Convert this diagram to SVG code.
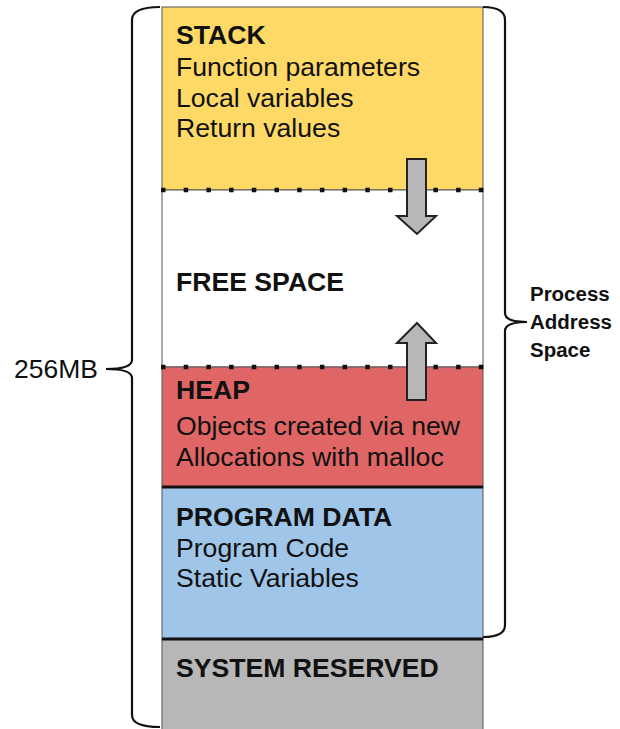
<svg xmlns="http://www.w3.org/2000/svg" width="620" height="729" viewBox="0 0 620 729">
<style>
.t{font-family:"Liberation Sans",Arial,sans-serif;font-size:25px;fill:#111}
.b{font-weight:bold}
.lbl{font-family:"Liberation Sans",Arial,sans-serif;font-size:19.5px;font-weight:bold;fill:#111}
.brace{fill:none;stroke:#111;stroke-width:2.2}
.arrow{fill:#b7b7b7;stroke:#222;stroke-width:2}
.dots{stroke:#111;stroke-width:4.5;stroke-dasharray:4.5 18.2}
.solid{stroke:#111;stroke-width:3}
</style>
<rect width="620" height="729" fill="#fff"/>
<g id="stack">
<rect x="162" y="7" width="321" height="183" fill="#ffd966" stroke="#555" stroke-width="1"/>
<g transform="matrix(1.065 0 0 1 176 0)">
<text class="t b" x="0" y="44">STACK</text>
<text class="t" x="0" y="76">Function parameters</text>
<text class="t" x="0" y="107">Local variables</text>
<text class="t" x="0" y="137">Return values</text>
</g>
</g>
<g id="free-space">
<rect x="162" y="190" width="321" height="177" fill="#fff" stroke="#555" stroke-width="1"/>
<text class="t b" x="0" y="291" transform="matrix(1.065 0 0 1 176 0)">FREE SPACE</text>
</g>
<g id="heap">
<rect x="162" y="367" width="321" height="120" fill="#e06666" stroke="#555" stroke-width="1"/>
<g transform="matrix(1.065 0 0 1 176 0)">
<text class="t b" x="0" y="399">HEAP</text>
<text class="t" x="0" y="435">Objects created via new</text>
<text class="t" x="0" y="466">Allocations with malloc</text>
</g>
</g>
<g id="program-data">
<rect x="162" y="487" width="321" height="152" fill="#9fc5e8" stroke="#555" stroke-width="1"/>
<g transform="matrix(1.065 0 0 1 176 0)">
<text class="t b" x="0" y="526">PROGRAM DATA</text>
<text class="t" x="0" y="557">Program Code</text>
<text class="t" x="0" y="587">Static Variables</text>
</g>
</g>
<g id="system-reserved">
<rect x="162" y="639" width="321" height="95" fill="#b7b7b7" stroke="#555" stroke-width="1"/>
<text class="t b" x="0" y="677" transform="matrix(1.065 0 0 1 176 0)">SYSTEM RESERVED</text>
</g>
<g id="connectors">
<line class="dots" x1="161" y1="190" x2="486" y2="190"/>
<line class="dots" x1="161" y1="367" x2="486" y2="367"/>
<line class="solid" x1="162" y1="487" x2="483" y2="487"/>
<line class="solid" x1="162" y1="639" x2="483" y2="639"/>
<path class="arrow" d="M407 159 H426 V216 H436 L417 234 L397 216 H407 Z"/>
<path class="arrow" d="M407 400 H426 V343 H436 L417 323 L397 343 H407 Z"/>
<path class="brace" d="M160 7 Q132 7 132 20 L132 360 Q132 369 106 369 Q132 369 132 378 L132 715 Q132 727 160 727"/>
<path class="brace" d="M483 7 Q505 7 505 20 L505 313 Q505 322 527 322 Q505 322 505 331 L505 625 Q505 637 483 637"/>
</g>
<g id="size-label">
<text class="t" x="0" y="378" text-anchor="end" transform="matrix(1.06 0 0 1 98 0)">256MB</text>
</g>
<g id="process-label" transform="matrix(1.05 0 0 1 530 0)">
<text class="lbl" x="0" y="301">Process</text>
<text class="lbl" x="0" y="329">Address</text>
<text class="lbl" x="0" y="357">Space</text>
</g>
</svg>
